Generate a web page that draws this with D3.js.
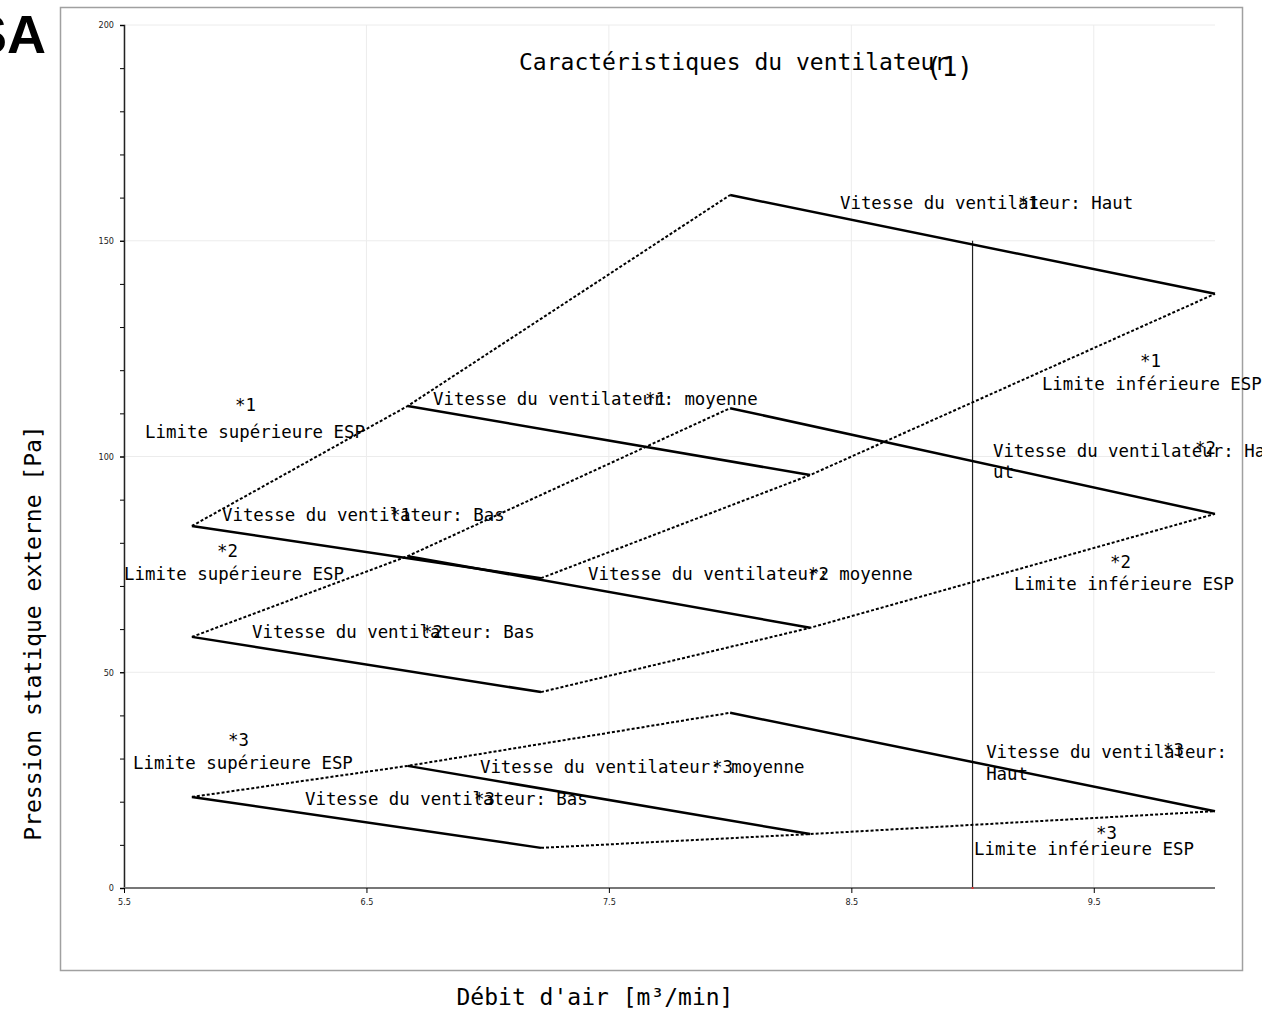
<!DOCTYPE html>
<html>
<head>
<meta charset="utf-8">
<script src="https://cdn.jsdelivr.net/npm/d3@7"></script>
<style>
  body { margin: 0; background: #fff; }
  svg { display: block; }
  .mono { font-family: "DejaVu Sans Mono", "Liberation Mono", monospace; fill: #000; }
  .tick text { font-family: "DejaVu Sans Condensed", "DejaVu Sans", sans-serif; font-size: 9px; fill: #222; }
</style>
</head>
<body>
<svg id="chart" width="1262" height="1011"></svg>
<script>
// air flow ranges per fan speed [m3/min]
const flowBas = [5.78, 7.22];
const flowMoy = [6.67, 8.33];
const flowHaut = [8.0, 10.0];

// external static pressure at the ends of each speed curve [Pa]
const group1 = { bas: [83.9, 71.8], moy: [111.7, 95.7], haut: [160.6, 137.7] };
const group2 = { bas: [58.2, 45.4], moy: [76.9, 60.3], haut: [111.2, 86.7] };
const group3 = { bas: [21.1, 9.3], moy: [28.3, 12.5], haut: [40.6, 17.8] };
const groups = [group1, group2, group3];

const xTicks = [5.5, 6.5, 7.5, 8.5, 9.5];
const yMajor = [0, 50, 100, 150, 200];
const yMinor = d3.range(0, 201, 10);

const markerFlow = 9.0;
const markerTop = 150;

// annotations, anchored in data units
const labels = [
  { t: 'Vitesse du ventilateur: Haut', x: 8.453, y: 157.4 },
  { t: '*1', x: 9.188, y: 157.4 },
  { t: '*1', x: 9.691, y: 120.7 },
  { t: 'Limite inférieure ESP', x: 9.286, y: 115.4 },
  { t: '*1', x: 5.958, y: 110.5 },
  { t: 'Limite supérieure ESP', x: 5.587, y: 104.3 },
  { t: 'Vitesse du ventilateur: moyenne', x: 6.775, y: 111.9 },
  { t: '*1', x: 7.649, y: 111.9 },
  { t: 'Vitesse du ventilateur: Ha', x: 9.084, y: 99.9 },
  { t: 'ut', x: 9.084, y: 95.0 },
  { t: '*2', x: 9.918, y: 100.6 },
  { t: 'Vitesse du ventilateur: Bas', x: 5.904, y: 85.05 },
  { t: '*1', x: 6.597, y: 85.05 },
  { t: '*2', x: 5.884, y: 76.7 },
  { t: 'Limite supérieure ESP', x: 5.5, y: 71.4 },
  { t: 'Vitesse du ventilateur: moyenne', x: 7.414, y: 71.4 },
  { t: '*2', x: 8.321, y: 71.4 },
  { t: '*2', x: 9.567, y: 74.2 },
  { t: 'Limite inférieure ESP', x: 9.171, y: 69.1 },
  { t: 'Vitesse du ventilateur: Bas', x: 6.028, y: 57.9 },
  { t: '*2', x: 6.729, y: 57.9 },
  { t: '*3', x: 5.929, y: 32.9 },
  { t: 'Limite supérieure ESP', x: 5.537, y: 27.6 },
  { t: 'Vitesse du ventilateur: moyenne', x: 6.968, y: 26.7 },
  { t: '*3', x: 7.925, y: 26.7 },
  { t: 'Vitesse du ventilateur:', x: 9.056, y: 30.1 },
  { t: 'Haut', x: 9.056, y: 25.0 },
  { t: '*3', x: 9.786, y: 30.6 },
  { t: 'Vitesse du ventilateur: Bas', x: 6.247, y: 19.2 },
  { t: '*3', x: 6.944, y: 19.2 },
  { t: '*3', x: 9.509, y: 11.4 },
  { t: 'Limite inférieure ESP', x: 9.006, y: 7.6 }
];

const svg = d3.select('#chart');

// outer frame
svg.append('rect')
  .attr('x', 60.5).attr('y', 7.5)
  .attr('width', 1182).attr('height', 963)
  .attr('fill', '#fff').attr('stroke', '#a0a0a0').attr('stroke-width', 1.5);

svg.append('text')
  .attr('x', 46).attr('y', 53)
  .attr('text-anchor', 'end')
  .style('font-family', '"Liberation Sans", Arial, sans-serif')
  .style('font-weight', 'bold')
  .style('font-size', '54px')
  .text('SA');

const x = d3.scaleLinear().domain([5.5, 10]).range([124, 1215]);
const y = d3.scaleLinear().domain([0, 200]).range([888, 25]);

// grid
const grid = svg.append('g');
grid.selectAll('.gx').data(xTicks).join('line')
  .attr('x1', d => x(d)).attr('x2', d => x(d))
  .attr('y1', y(200)).attr('y2', y(0))
  .attr('stroke', '#ececec');
grid.selectAll('.gy').data(yMajor.slice(1)).join('line')
  .attr('x1', x(5.5)).attr('x2', x(10))
  .attr('y1', d => y(d)).attr('y2', d => y(d))
  .attr('stroke', '#ececec');

// y axis: minor ticks then labelled majors
svg.append('g')
  .attr('transform', `translate(${x(5.5)},0)`)
  .call(d3.axisLeft(y).tickValues(yMinor).tickSize(4).tickFormat(''))
  .call(g => g.select('.domain').attr('stroke', '#222').attr('stroke-width', 1.5));
svg.append('g')
  .attr('transform', `translate(${x(5.5)},0)`)
  .call(d3.axisLeft(y).tickValues(yMajor).tickSize(4).tickPadding(6))
  .call(g => g.select('.domain').remove());

// x axis
svg.append('g')
  .attr('transform', `translate(0,${y(0)})`)
  .call(d3.axisBottom(x).tickValues(xTicks).tickSize(5).tickPadding(6).tickFormat(d3.format('.1f')))
  .call(g => g.select('.domain').attr('stroke', '#777').attr('stroke-width', 2).attr('d', `M${x(5.5)},0H${x(10)}`));

// marker line
svg.append('line')
  .attr('x1', x(markerFlow)).attr('x2', x(markerFlow))
  .attr('y1', y(0)).attr('y2', y(markerTop))
  .attr('stroke', '#222').attr('stroke-width', 1.2);
svg.append('rect')
  .attr('x', x(markerFlow) - 1).attr('y', y(0) - 1)
  .attr('width', 2).attr('height', 2)
  .attr('fill', '#d33');

const line = d3.line().x(d => x(d[0])).y(d => y(d[1]));

groups.forEach(g => {
  const speeds = [[flowBas, g.bas], [flowMoy, g.moy], [flowHaut, g.haut]];
  const upper = speeds.map(s => [s[0][0], s[1][0]]);
  const lower = speeds.map(s => [s[0][1], s[1][1]]);
  [upper, lower].forEach(pts => {
    svg.append('path')
      .attr('d', line(pts))
      .attr('fill', 'none').attr('stroke', '#000')
      .attr('stroke-width', 2).attr('stroke-dasharray', '3 2');
  });
  speeds.forEach(s => {
    svg.append('path')
      .attr('d', line([[s[0][0], s[1][0]], [s[0][1], s[1][1]]]))
      .attr('fill', 'none').attr('stroke', '#000')
      .attr('stroke-width', 2.5);
  });
});

svg.append('g').selectAll('text').data(labels).join('text')
  .attr('class', 'mono')
  .attr('x', d => x(d.x)).attr('y', d => y(d.y))
  .style('font-size', '17.4px')
  .text(d => d.t);

// titles
svg.append('text').attr('class', 'mono')
  .attr('x', 519).attr('y', 70)
  .style('font-size', '23px')
  .text('Caractéristiques du ventilateur');
svg.append('text').attr('class', 'mono')
  .attr('x', 926).attr('y', 76)
  .style('font-size', '26px')
  .text('(1)');

svg.append('text').attr('class', 'mono')
  .attr('transform', 'translate(41,633) rotate(-90)')
  .attr('text-anchor', 'middle')
  .style('font-size', '23px')
  .text('Pression statique externe [Pa]');

svg.append('text').attr('class', 'mono')
  .attr('x', 595).attr('y', 1005)
  .attr('text-anchor', 'middle')
  .style('font-size', '23px')
  .text("Débit d'air [m³/min]");
</script>
</body>
</html>
